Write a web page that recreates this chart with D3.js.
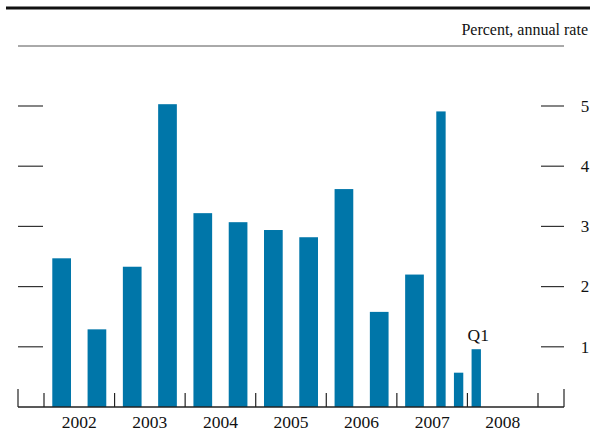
<!DOCTYPE html>
<html>
<head>
<meta charset="utf-8">
<script src="https://cdn.jsdelivr.net/npm/d3@7"></script>
<style>
  body { margin: 0; background: #fff; }
  svg text { font-family: "Liberation Serif", "Times New Roman", serif; fill: #111; }
</style>
</head>
<body>
<div id="graf"></div>
<script>
// datos
periods = ['2002-H1', '2002-H2', '2003-H1', '2003-H2', '2004-H1', '2004-H2', '2005-H1',
           '2005-H2', '2006-H1', '2006-H2', '2007-H1', '2007-Q3', '2007-Q4', '2008-Q1']
values  = [2.47, 1.29, 2.33, 5.03, 3.22, 3.07, 2.94, 2.82, 3.62, 1.58, 2.20, 4.91, 0.57, 0.96]
years   = [2002, 2003, 2004, 2005, 2006, 2007, 2008]
yTicks  = [1, 2, 3, 4, 5]
unitLabel = 'Percent, annual rate'
noteLabel = 'Q1'

ancho_total = 590
alto_total = 431

svg = d3.select('#graf').append('svg')
        .attr('width', ancho_total)
        .attr('height', alto_total)

x = d3.scaleLinear().domain([2002, 2009]).range([44, 538])
y = d3.scaleLinear().domain([0, 5]).range([407, 106])
pad = 26

// periodo -> [inicio, fin] en años
function span(p) {
  var yr = +p.slice(0, 4), k = p.slice(5, 6), n = +p.slice(6)
  var len = k == 'H' ? 0.5 : 0.25
  var s = yr + (n - 1) * len
  return [s, s + len]
}

data = periods.map((p, i) => ({ p: p, v: values[i], s: span(p) }))

// líneas de arriba
svg.append('line')
   .attr('x1', 6).attr('x2', 590).attr('y1', 8).attr('y2', 8)
   .attr('stroke', '#111').attr('stroke-width', 3)

svg.append('line')
   .attr('x1', x(2002) - pad).attr('x2', x(2009) + pad).attr('y1', 46).attr('y2', 46)
   .attr('stroke', '#555').attr('stroke-width', 1)

svg.append('text')
   .attr('x', 588).attr('y', 35)
   .attr('text-anchor', 'end')
   .style('font-size', '16px')
   .text(unitLabel)

// barras
frac = 0.53
svg.selectAll('rect.bar')
   .data(data)
   .enter().append('rect')
   .attr('class', 'bar')
   .attr('x', d => { var w = x(d.s[1]) - x(d.s[0]); return x(d.s[0]) + w * (1 - frac) / 2 })
   .attr('width', d => (x(d.s[1]) - x(d.s[0])) * frac)
   .attr('y', d => y(d.v))
   .attr('height', d => y(0) - y(d.v))
   .attr('fill', '#0076a9')

// marcas y
yTicks.forEach(t => {
  svg.append('line')
     .attr('x1', x(2002) - pad).attr('x2', x(2002) - 1)
     .attr('y1', y(t)).attr('y2', y(t))
     .attr('stroke', '#333').attr('stroke-width', 1.2)
  svg.append('line')
     .attr('x1', x(2009) + 3).attr('x2', x(2009) + pad)
     .attr('y1', y(t)).attr('y2', y(t))
     .attr('stroke', '#333').attr('stroke-width', 1.2)
  svg.append('text')
     .attr('x', x(2009) + pad + 21).attr('y', y(t))
     .attr('dy', '0.34em')
     .attr('text-anchor', 'middle')
     .style('font-size', '17px')
     .text(t)
})

// eje x
ax = svg.append('g')
ax.append('line')
  .attr('x1', x(2002) - pad).attr('x2', x(2009) + pad)
  .attr('y1', y(0)).attr('y2', y(0))
  .attr('stroke', '#222').attr('stroke-width', 1.5)

ends = [x(2002) - pad, x(2009) + pad]
ends.forEach(e => {
  ax.append('line')
    .attr('x1', e).attr('x2', e).attr('y1', y(0) - 18).attr('y2', y(0))
    .attr('stroke', '#222').attr('stroke-width', 1.2)
})

ax.selectAll('line.tick')
  .data(d3.range(2002, 2010))
  .enter().append('line')
  .attr('class', 'tick')
  .attr('x1', d => x(d)).attr('x2', d => x(d))
  .attr('y1', y(0) - 14).attr('y2', y(0))
  .attr('stroke', '#222').attr('stroke-width', 1.2)

ax.selectAll('text.year')
  .data(years)
  .enter().append('text')
  .attr('class', 'year')
  .attr('x', d => x(d + 0.5))
  .attr('y', 428)
  .attr('text-anchor', 'middle')
  .style('font-size', '17.5px')
  .text(d => d)

// nota Q1
last = data[data.length - 1]
svg.append('text')
   .attr('x', (x(last.s[0]) + x(last.s[1])) / 2 + 2)
   .attr('y', y(last.v) - 8)
   .attr('text-anchor', 'middle')
   .style('font-size', '17.5px')
   .text(noteLabel)
</script>
</body>
</html>
